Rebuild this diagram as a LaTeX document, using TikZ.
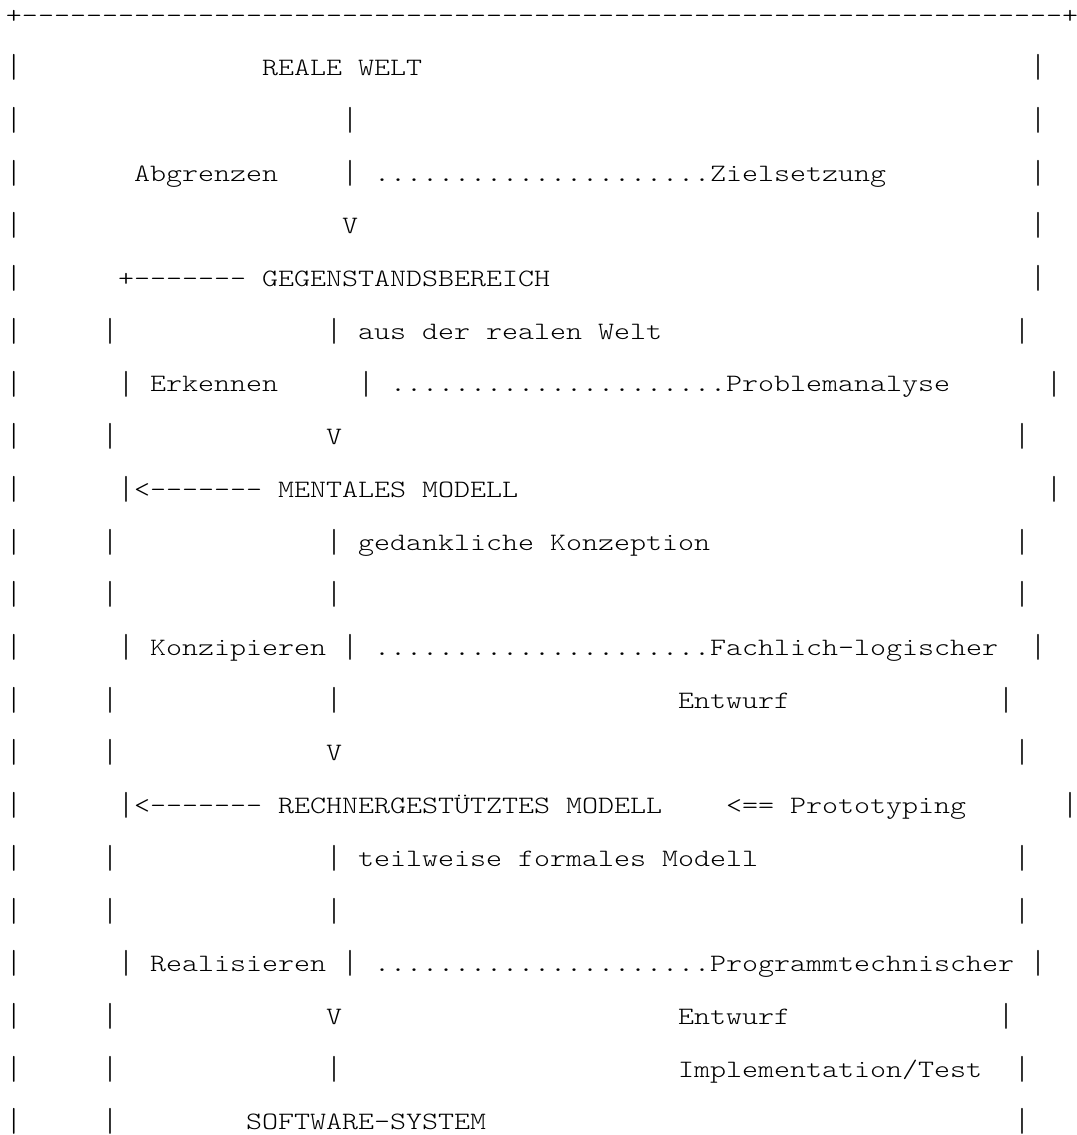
\documentclass[tikz,border=0pt]{standalone}
\usepackage{fontspec}
\usepackage{graphicx}
% typewriter face, widened so that one character advance is exactly one cell
\setmonofont{lmmonolt10-regular.otf}[FakeStretch=1.21905]
\newcommand\ascfont{\ttfamily\fontsize{18.75pt}{18.75pt}\selectfont}
% vertical bar stretched to the full line height of the typewriter face
\newcommand\vb{\sbox0{|}\sbox2{\resizebox*{\wd0}{19.5pt}{|}}\raisebox{\dimexpr\dp2-3.75pt\relax}{\usebox2}}
% one character cell: 16 units wide; one text row: 52.7 units high
\newcommand\cell[4]{\node[asc] (#1) at ({6+16*#3},{23+52.7*#2}) {#4};}
\begin{document}
\begin{tikzpicture}[x=0.75pt,y=-0.75pt,
  asc/.style={anchor=base west,inner sep=0pt,outer sep=0pt,font=\ascfont,text=black}]
\fill[white] (0,0) rectangle (1077,1135);
\useasboundingbox (0,0) rectangle (1077,1135);
% frame top
\cell{top}{0}{0}{+-----------------------------------------------------------------+}
% real world
\cell{a1}{1}{0}{\vb}\cell{welt1}{1}{16}{REALE}\cell{welt2}{1}{22}{WELT}\cell{b1}{1}{64}{\vb}
\cell{a2}{2}{0}{\vb}\cell{v2}{2}{21}{\vb}\cell{b2}{2}{64}{\vb}
\cell{a3}{3}{0}{\vb}\cell{abgr}{3}{8}{Abgrenzen}\cell{v3}{3}{21}{\vb}\cell{d3}{3}{23}{.....................}\cell{ziel}{3}{44}{Zielsetzung}\cell{b3}{3}{64}{\vb}
\cell{a4}{4}{0}{\vb}\cell{arr4}{4}{21}{V}\cell{b4}{4}{64}{\vb}
% subject area
\cell{a5}{5}{0}{\vb}\cell{loop5}{5}{7}{+-------}\cell{geg}{5}{16}{GEGENSTANDSBEREICH}\cell{b5}{5}{64}{\vb}
\cell{a6}{6}{0}{\vb}\cell{l6}{6}{6}{\vb}\cell{v6}{6}{20}{\vb}\cell{aus1}{6}{22}{aus}\cell{aus2}{6}{26}{der}\cell{aus3}{6}{30}{realen}\cell{aus4}{6}{37}{Welt}\cell{b6}{6}{63}{\vb}
\cell{a7}{7}{0}{\vb}\cell{l7}{7}{7}{\vb}\cell{erk}{7}{9}{Erkennen}\cell{v7}{7}{22}{\vb}\cell{d7}{7}{24}{.....................}\cell{prob}{7}{45}{Problemanalyse}\cell{b7}{7}{65}{\vb}
\cell{a8}{8}{0}{\vb}\cell{l8}{8}{6}{\vb}\cell{arr8}{8}{20}{V}\cell{b8}{8}{63}{\vb}
% mental model
\cell{a9}{9}{0}{\vb}\cell{l9}{9}{7}{\vb}\cell{back9}{9}{8}{<-------}\cell{ment1}{9}{17}{MENTALES}\cell{ment2}{9}{26}{MODELL}\cell{b9}{9}{65}{\vb}
\cell{a10}{10}{0}{\vb}\cell{l10}{10}{6}{\vb}\cell{v10}{10}{20}{\vb}\cell{ged1}{10}{22}{gedankliche}\cell{ged2}{10}{34}{Konzeption}\cell{b10}{10}{63}{\vb}
\cell{a11}{11}{0}{\vb}\cell{l11}{11}{6}{\vb}\cell{v11}{11}{20}{\vb}\cell{b11}{11}{63}{\vb}
\cell{a12}{12}{0}{\vb}\cell{l12}{12}{7}{\vb}\cell{konz}{12}{9}{Konzipieren}\cell{v12}{12}{21}{\vb}\cell{d12}{12}{23}{.....................}\cell{fach}{12}{44}{Fachlich-logischer}\cell{b12}{12}{64}{\vb}
\cell{a13}{13}{0}{\vb}\cell{l13}{13}{6}{\vb}\cell{v13}{13}{20}{\vb}\cell{ent13}{13}{42}{Entwurf}\cell{b13}{13}{62}{\vb}
\cell{a14}{14}{0}{\vb}\cell{l14}{14}{6}{\vb}\cell{arr14}{14}{20}{V}\cell{b14}{14}{63}{\vb}
% computer-aided model
\cell{a15}{15}{0}{\vb}\cell{l15}{15}{7}{\vb}\cell{back15}{15}{8}{<-------}\cell{rech1}{15}{17}{RECHNERGESTÜTZTES}\cell{rech2}{15}{35}{MODELL}\cell{pin}{15}{45}{<==}\cell{proto}{15}{49}{Prototyping}\cell{b15}{15}{66}{\vb}
\cell{a16}{16}{0}{\vb}\cell{l16}{16}{6}{\vb}\cell{v16}{16}{20}{\vb}\cell{teil1}{16}{22}{teilweise}\cell{teil2}{16}{32}{formales}\cell{teil3}{16}{41}{Modell}\cell{b16}{16}{63}{\vb}
\cell{a17}{17}{0}{\vb}\cell{l17}{17}{6}{\vb}\cell{v17}{17}{20}{\vb}\cell{b17}{17}{63}{\vb}
\cell{a18}{18}{0}{\vb}\cell{l18}{18}{7}{\vb}\cell{real}{18}{9}{Realisieren}\cell{v18}{18}{21}{\vb}\cell{d18}{18}{23}{.....................}\cell{prog}{18}{44}{Programmtechnischer}\cell{b18}{18}{64}{\vb}
\cell{a19}{19}{0}{\vb}\cell{l19}{19}{6}{\vb}\cell{arr19}{19}{20}{V}\cell{ent19}{19}{42}{Entwurf}\cell{b19}{19}{62}{\vb}
\cell{a20}{20}{0}{\vb}\cell{l20}{20}{6}{\vb}\cell{v20}{20}{20}{\vb}\cell{impl}{20}{42}{Implementation/Test}\cell{b20}{20}{63}{\vb}
% software system
\cell{a21}{21}{0}{\vb}\cell{l21}{21}{6}{\vb}\cell{soft}{21}{15}{SOFTWARE-SYSTEM}\cell{b21}{21}{63}{\vb}
\end{tikzpicture}
\end{document}
